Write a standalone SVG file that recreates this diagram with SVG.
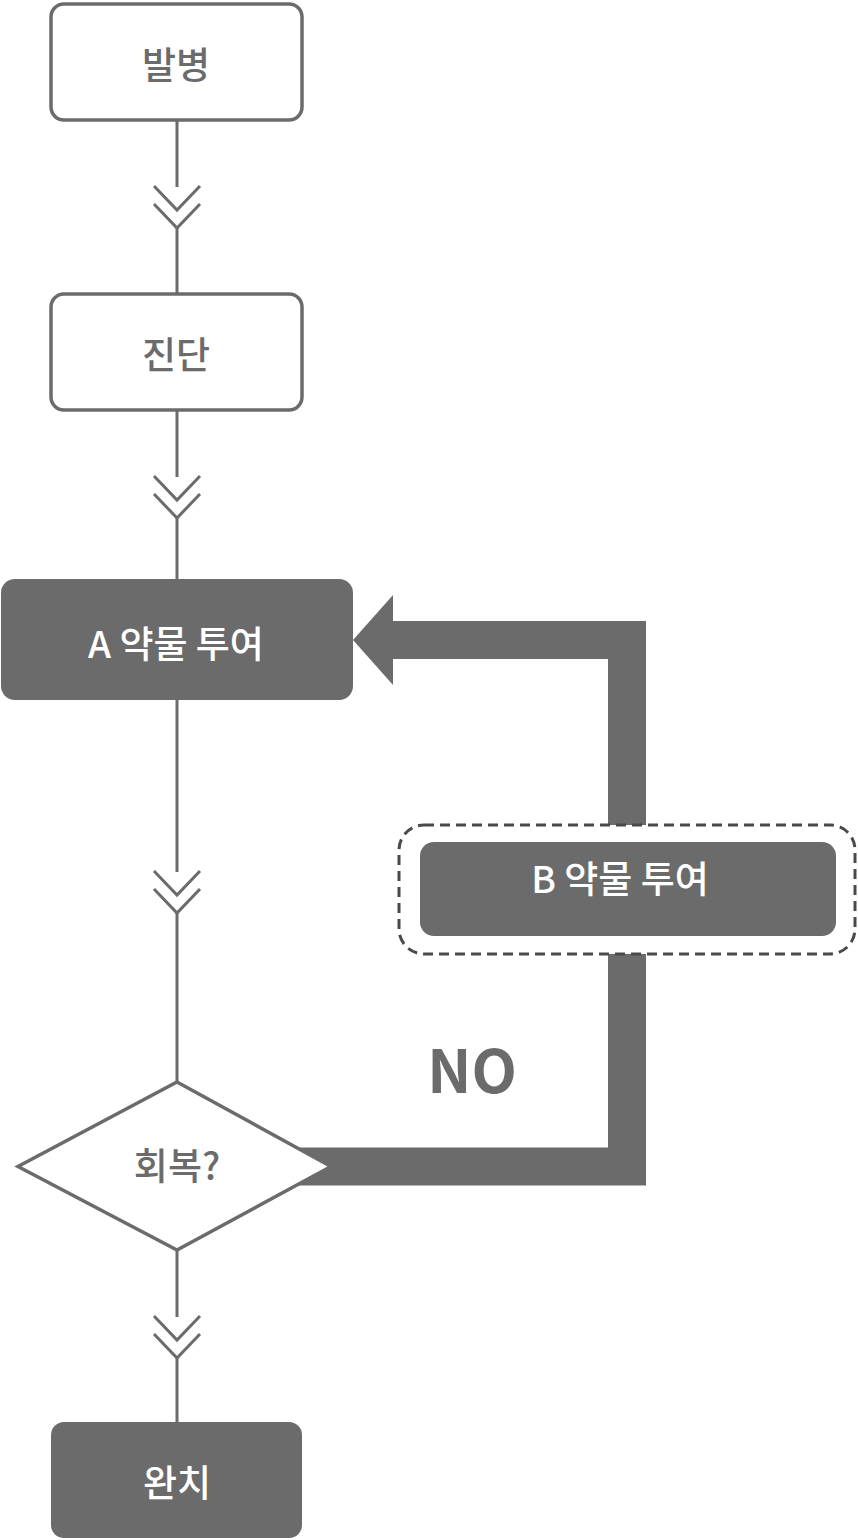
<svg xmlns="http://www.w3.org/2000/svg" width="858" height="1540" viewBox="0 0 858 1540">
<style>
.ln{stroke:#6b6b6b;stroke-width:3;fill:none}
.box{fill:#fff;stroke:#6b6b6b;stroke-width:3.5}
.dark{fill:#6b6b6b}
.t{font-family:"Noto Sans CJK KR","Noto Sans",sans-serif;font-size:37px;text-anchor:middle;dominant-baseline:central;font-weight:500}
.tg{fill:#6b6b6b}
.tw{fill:#fff}
</style>
<defs>
<path id="chev" d="M-23,0 L0,24 L23,0 M-23,18 L0,42 L23,18" stroke="#6b6b6b" stroke-width="3" fill="none"/>
</defs>
<g id="connectors">
<path class="ln" d="M177,120 V187 M177,227 V293"/>
<use href="#chev" x="177" y="186"/>
<path class="ln" d="M177,410 V477 M177,517 V580"/>
<use href="#chev" x="177" y="476"/>
<path class="ln" d="M177,700 V872 M177,912 V1082"/>
<use href="#chev" x="177" y="871"/>
<path class="ln" d="M177,1250 V1317 M177,1357 V1422"/>
<use href="#chev" x="177" y="1316"/>
<path d="M260,1166.5 H627 V640 H390" stroke="#6b6b6b" stroke-width="38" fill="none" stroke-linejoin="miter"/>
<polygon points="353,640 393,595 393,685" fill="#6b6b6b"/>
<text x="472" y="1067" font-family="'Noto Sans CJK KR','Noto Sans',sans-serif" font-size="59" font-weight="700" fill="#6b6b6b" text-anchor="middle" dominant-baseline="central">NO</text>
</g>
<g id="n1">
<rect class="box" x="51" y="4" width="251" height="116" rx="13"/>
<text class="t tg" x="176" y="63">발병</text>
</g>
<g id="n2">
<rect class="box" x="51" y="294" width="251" height="116" rx="13"/>
<text class="t tg" x="176" y="353">진단</text>
</g>
<g id="n3">
<rect class="dark" x="1" y="579" width="352" height="121" rx="14"/>
<text class="t tw" x="176" y="642">A 약물 투여</text>
</g>
<g id="n4">
<rect x="399" y="825" width="456" height="129" rx="25" fill="#fff" stroke="#4a4a4a" stroke-width="3" stroke-dasharray="10,6"/>
<rect class="dark" x="420" y="842" width="416" height="94" rx="14"/>
<text class="t tw" x="620" y="877">B 약물 투여</text>
</g>
<g id="n5">
<polygon points="177,1082 331,1166.5 177,1250 18,1166.5" fill="#fff" stroke="#6b6b6b" stroke-width="3.5"/>
<text class="t tg" x="177" y="1164">회복?</text>
</g>
<g id="n6">
<rect class="dark" x="51" y="1422" width="251" height="116" rx="13"/>
<text class="t tw" x="177" y="1481">완치</text>
</g>
</svg>
